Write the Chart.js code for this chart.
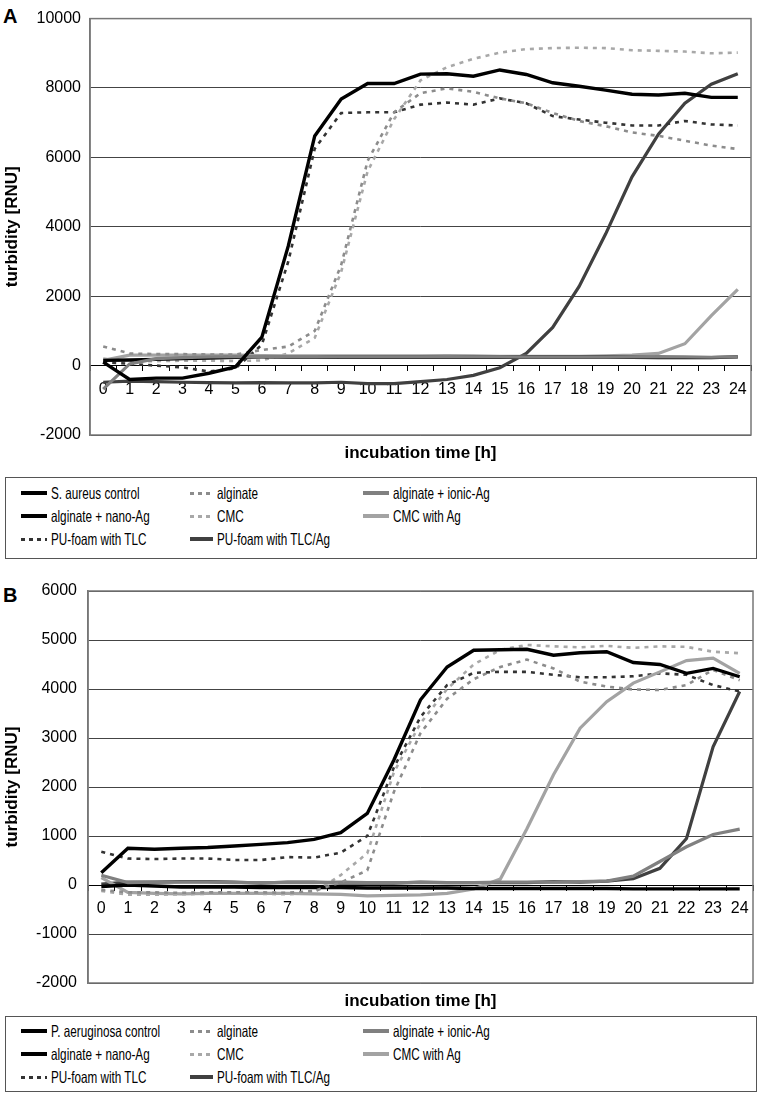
<!DOCTYPE html>
<html>
<head>
<meta charset="utf-8">
<script src="https://cdn.jsdelivr.net/npm/chart.js@4.4.1/dist/chart.umd.min.js"></script>
<style>
  body { margin: 0; background: #fff; font-family: 'Liberation Sans', Arial, sans-serif; }
  #wrap { position: relative; width: 767px; height: 1095px; overflow: hidden; }
  .panel { position: absolute; left: 3px; font-weight: bold; font-size: 20px; color: #000; }
  canvas { position: absolute; left: 0; }
  .legend { position: absolute; left: 5px; width: 752px; border: 1px solid #555; box-sizing: border-box;
            font-family: 'Liberation Sans', Arial, sans-serif; font-size: 16.5px; color: #000; }
  .txt { position: absolute; height: 18px; line-height: 18px; white-space: nowrap;
         transform: scaleX(0.71); transform-origin: 0 50%; }
  .sw { position: absolute; }
</style>
</head>
<body>
<div id="wrap">
  <div class="panel" style="top:5px">A</div>
  <canvas id="chartA" width="767" height="470" style="top:0"></canvas>
  <div class="legend" id="legendA" style="top:477px;height:82px"></div>

  <div class="panel" style="top:584px">B</div>
  <canvas id="chartB" width="767" height="455" style="top:560px"></canvas>
  <div class="legend" id="legendB" style="top:1016px;height:76px"></div>
</div>
<script>
// x categories (incubation hours)
var hours = ['0','1','2','3','4','5','6','7','8','9','10','11','12','13','14','15','16','17','18','19','20','21','22','23','24'];

// y tick labels
var yTicksA = [-2000, 0, 2000, 4000, 6000, 8000, 10000];
var yTicksB = [-2000, -1000, 0, 1000, 2000, 3000, 4000, 5000, 6000];

var namesA = ['S. aureus control', 'alginate', 'alginate + ionic-Ag', 'alginate + nano-Ag', 'CMC', 'CMC with Ag', 'PU-foam with TLC', 'PU-foam with TLC/Ag'];
var namesB = ['P. aeruginosa control', 'alginate', 'alginate + ionic-Ag', 'alginate + nano-Ag', 'CMC', 'CMC with Ag', 'PU-foam with TLC', 'PU-foam with TLC/Ag'];

// A - S. aureus
var aControl  = [100, -400, -360, -360, -220, -40, 820, 3450, 6620, 7680, 8130, 8130, 8400, 8410, 8340, 8520, 8390, 8150, 8050, 7940, 7820, 7800, 7850, 7730, 7730];
var aAlginate = [550, 350, 330, 330, 320, 320, 450, 550, 1000, 2900, 5900, 7300, 7850, 7990, 7890, 7700, 7560, 7280, 7050, 6900, 6720, 6620, 6480, 6340, 6240];
var aIonicAg  = [-680, 50, 200, 230, 250, 260, 260, 260, 260, 250, 250, 250, 250, 260, 250, 250, 240, 240, 240, 240, 250, 260, 250, 240, 250];
var aNanoAg   = [150, 160, 180, 200, 220, 240, 250, 250, 250, 240, 240, 240, 240, 240, 240, 240, 240, 240, 240, 240, 240, 230, 230, 230, 250];
var aCMC      = [200, 130, 130, 140, 140, 130, 150, 350, 800, 2700, 5600, 7100, 8220, 8600, 8840, 9020, 9120, 9150, 9160, 9150, 9090, 9070, 9050, 9000, 9020];
var aCMCAg    = [150, 300, 300, 300, 300, 300, 290, 280, 280, 280, 280, 280, 280, 290, 280, 270, 270, 270, 270, 280, 300, 350, 630, 1440, 2200];
var aTLC      = [100, 50, 0, -50, -170, -80, 600, 3000, 6250, 7280, 7300, 7300, 7520, 7580, 7520, 7700, 7560, 7190, 7090, 7000, 6920, 6920, 7050, 6950, 6920];
var aTLCAg    = [-480, -450, -460, -480, -490, -500, -490, -500, -500, -480, -520, -520, -460, -400, -280, -60, 350, 1100, 2280, 3790, 5440, 6670, 7560, 8110, 8410];

// B - P. aeruginosa
var bControl  = [250, 750, 730, 750, 765, 795, 830, 865, 930, 1070, 1460, 2550, 3780, 4450, 4790, 4800, 4810, 4690, 4740, 4760, 4540, 4500, 4320, 4420, 4250];
var bAlginate = [-100, -150, -150, -160, -150, -150, -150, -160, -120, 50, 300, 1900, 3100, 3800, 4200, 4450, 4600, 4420, 4150, 4050, 3990, 3980, 4080, 4390, 4180];
var bIonicAg  = [200, 50, 60, 60, 60, 50, 50, 50, 50, 60, 50, 50, 50, 50, 50, 60, 60, 60, 70, 80, 180, 480, 780, 1030, 1140];
var bNanoAg   = [-30, 0, -20, -40, -40, -40, -50, -50, -50, -50, -60, -60, -60, -60, -70, -70, -70, -70, -70, -70, -80, -80, -80, -80, -80];
var bCMC      = [-120, -200, -200, -190, -180, -180, -180, -190, -150, 200, 650, 2300, 3300, 4000, 4500, 4800, 4900, 4870, 4850, 4880, 4840, 4870, 4860, 4760, 4730];
var bCMCAg    = [150, -150, -170, -180, -170, -170, -170, -170, -180, -190, -220, -210, -200, -170, -80, 120, 1150, 2250, 3200, 3740, 4120, 4350, 4580, 4630, 4320];
var bTLC      = [680, 540, 530, 540, 540, 510, 510, 570, 560, 660, 1000, 2400, 3430, 4080, 4330, 4350, 4350, 4290, 4240, 4240, 4260, 4320, 4290, 4080, 3950];
var bTLCAg    = [20, 60, 60, 70, 70, 60, 40, 60, 60, 40, 40, 40, 60, 50, 50, 50, 50, 70, 60, 80, 130, 340, 950, 2820, 3950];

// line look per series (same order as names)
var styles = [
  { color: '#000000', width: 3.4, dash: [] },
  { color: '#8c8c8c', width: 2.6, dash: [4, 5] },
  { color: '#808080', width: 3.2, dash: [] },
  { color: '#000000', width: 3.4, dash: [] },
  { color: '#a8a8a8', width: 2.6, dash: [4, 5] },
  { color: '#a3a3a3', width: 3.2, dash: [] },
  { color: '#333333', width: 2.6, dash: [4, 5] },
  { color: '#404040', width: 3.2, dash: [] }
];

var frame = {
  id: 'frame',
  afterDraw: function (chart) {
    var a = chart.chartArea, c = chart.ctx;
    c.save();
    c.strokeStyle = '#777';
    c.lineWidth = 1.5;
    c.strokeRect(a.left, a.top, a.right - a.left, a.bottom - a.top);
    c.restore();
  }
};

function makeChart(id, names, series, yTicks, box) {
  var datasets = series.map(function (d, i) {
    return {
      label: names[i],
      data: d,
      borderColor: styles[i].color,
      borderWidth: styles[i].width,
      borderDash: styles[i].dash,
      pointRadius: 0,
      tension: 0,
      fill: false
    };
  });
  return new Chart(document.getElementById(id), {
    type: 'line',
    data: { labels: hours, datasets: datasets },
    plugins: [frame],
    options: {
      responsive: false,
      animation: false,
      layout: { padding: { left: 0, right: box.right, top: box.top, bottom: box.bottom } },
      plugins: { legend: { display: false }, tooltip: { enabled: false } },
      scales: {
        x: {
          type: 'category',
          position: { y: 0 },
          offset: true,
          grid: { offset: true, drawOnChartArea: false, drawTicks: true, tickLength: 5, color: '#000' },
          border: { color: '#000', width: 1 },
          ticks: { color: '#000', font: { family: 'Liberation Sans', size: 16 }, padding: 9, maxRotation: 0, autoSkip: false }
        },
        x2: {
          type: 'category',
          position: 'bottom',
          offset: true,
          ticks: { display: false },
          grid: { display: false, drawTicks: false },
          border: { display: false },
          title: { display: true, text: 'incubation time [h]', color: '#000',
                   font: { family: 'Liberation Sans', size: 17, weight: 'bold' }, padding: { top: 8, bottom: 0 } }
        },
        y: {
          min: yTicks[0],
          max: yTicks[yTicks.length - 1],
          ticks: { stepSize: yTicks[1] - yTicks[0], color: '#000', padding: box.tickPad,
                   font: { family: 'Liberation Sans', size: 16 },
                   callback: function (v) { return String(v); } },
          grid: { color: '#444', lineWidth: 1, drawTicks: false },
          border: { color: '#777', width: 1.5 },
          title: { display: true, text: 'turbidity [RNU]', color: '#000',
                   font: { family: 'Liberation Sans', size: 17, weight: 'bold' }, padding: { top: 2, bottom: 0 } },
          afterFit: function (s) { s.width = box.left; }
        }
      }
    }
  });
}

function makeLegend(id, names, rowTops) {
  var el = document.getElementById(id);
  var swX = [15, 184, 357], txtX = [45, 211, 387];
  names.forEach(function (n, i) {
    var col = i % 3, row = Math.floor(i / 3), st = styles[i];
    var sw = document.createElement('div');
    sw.className = 'sw';
    var dashed = st.dash.length > 0;
    var h = dashed ? 3 : 4;
    sw.style.left = swX[col] + 'px';
    sw.style.width = (txtX[col] - swX[col] - 4) + 'px';
    sw.style.top = (rowTops[row] + 9 - h / 2) + 'px';
    sw.style.height = h + 'px';
    sw.style.background = dashed
      ? 'repeating-linear-gradient(to right, ' + st.color + ' 0 4px, transparent 4px 8px)'
      : st.color;
    el.appendChild(sw);
    var t = document.createElement('div');
    t.className = 'txt';
    t.style.left = txtX[col] + 'px';
    t.style.top = rowTops[row] + 'px';
    t.textContent = n;
    el.appendChild(t);
  });
}

makeChart('chartA', namesA, [aControl, aAlginate, aIonicAg, aNanoAg, aCMC, aCMCAg, aTLC, aTLCAg], yTicksA,
  { left: 90, right: 16, top: 10, bottom: 6.6, tickPad: 9 });
makeChart('chartB', namesB, [bControl, bAlginate, bIonicAg, bNanoAg, bCMC, bCMCAg, bTLC, bTLCAg], yTicksB,
  { left: 88, right: 14, top: 31, bottom: 3.6, tickPad: 11 });

makeLegend('legendA', namesA, [6, 29, 52]);
makeLegend('legendB', namesB, [5, 28, 51]);
</script>
</body>
</html>
